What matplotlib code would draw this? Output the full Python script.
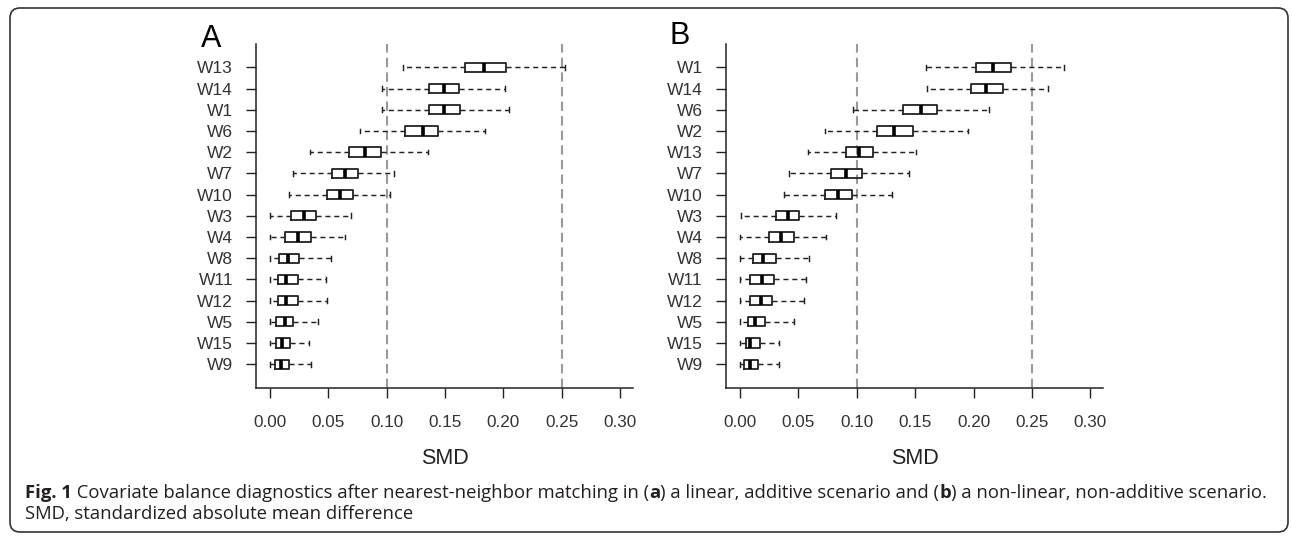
import matplotlib
matplotlib.use("Agg")
import matplotlib.pyplot as plt
from matplotlib.patches import FancyBboxPatch

# Covariate order (top to bottom) and box statistics:
# whisker low, lower quartile, median, upper quartile, whisker high.
LABELS_A = ["W13", "W14", "W1", "W6", "W2", "W7", "W10", "W3", "W4", "W8", "W11", "W12", "W5", "W15", "W9"]
WHISLO_A = [0.114, 0.096, 0.096, 0.077, 0.034, 0.020, 0.016, 0.000, 0.000, 0.000, 0.000, 0.000, 0.000, 0.000, 0.000]
Q1_A = [0.167, 0.136, 0.136, 0.116, 0.068, 0.053, 0.049, 0.018, 0.013, 0.008, 0.007, 0.007, 0.005, 0.005, 0.004]
MED_A = [0.183, 0.149, 0.149, 0.131, 0.081, 0.064, 0.060, 0.029, 0.024, 0.015, 0.014, 0.014, 0.013, 0.010, 0.009]
Q3_A = [0.202, 0.162, 0.163, 0.144, 0.095, 0.075, 0.071, 0.039, 0.035, 0.025, 0.024, 0.024, 0.020, 0.017, 0.016]
WHISHI_A = [0.253, 0.201, 0.205, 0.184, 0.135, 0.106, 0.103, 0.069, 0.064, 0.052, 0.048, 0.049, 0.041, 0.033, 0.035]

LABELS_B = ["W1", "W14", "W6", "W2", "W13", "W7", "W10", "W3", "W4", "W8", "W11", "W12", "W5", "W15", "W9"]
WHISLO_B = [0.159, 0.160, 0.097, 0.073, 0.058, 0.042, 0.038, 0.001, 0.000, 0.000, 0.000, 0.000, 0.000, 0.000, 0.000]
Q1_B = [0.202, 0.198, 0.140, 0.117, 0.091, 0.078, 0.073, 0.031, 0.025, 0.011, 0.009, 0.009, 0.007, 0.005, 0.004]
MED_B = [0.217, 0.211, 0.155, 0.132, 0.102, 0.091, 0.084, 0.041, 0.035, 0.020, 0.019, 0.018, 0.013, 0.009, 0.009]
Q3_B = [0.232, 0.225, 0.169, 0.148, 0.114, 0.105, 0.096, 0.051, 0.046, 0.031, 0.029, 0.028, 0.022, 0.017, 0.016]
WHISHI_B = [0.277, 0.264, 0.213, 0.195, 0.151, 0.145, 0.130, 0.082, 0.074, 0.059, 0.057, 0.055, 0.046, 0.034, 0.034]

THRESHOLDS = [0.10, 0.25]
X_TICKS = [0.00, 0.05, 0.10, 0.15, 0.20, 0.25, 0.30]
X_TICK_LABELS = ["0.00", "0.05", "0.10", "0.15", "0.20", "0.25", "0.30"]

CAPTION_1 = [("Fig. 1", "bold"), (" Covariate balance diagnostics after nearest-neighbor matching in (", "normal"),
             ("a", "bold"), (") a linear, additive scenario and (", "normal"), ("b", "bold"),
             (") a non-linear, non-additive scenario.", "normal")]
CAPTION_2 = "SMD, standardized absolute mean difference"

W, H = 1292, 536
TEXT_DARK = "#333333"
LINE_DARK = "#222222"

plt.rcParams.update({
    "font.family": ["Liberation Sans", "DejaVu Sans"],
    "axes.spines.top": False,
    "axes.spines.right": False,
    "axes.linewidth": 1.1,
    "xtick.major.width": 1.0,
    "ytick.major.width": 1.0,
    "xtick.major.size": 7.5,
    "ytick.major.size": 7.5,
    "xtick.color": LINE_DARK,
    "ytick.color": LINE_DARK,
    "xtick.labelcolor": TEXT_DARK,
    "ytick.labelcolor": TEXT_DARK,
})


def draw_panel(ax, labels, whislo, q1, med, q3, whishi):
    n = len(labels)
    positions = list(range(n, 0, -1))
    stats = [dict(whislo=a, q1=b, med=c, q3=d, whishi=e, fliers=[])
             for a, b, c, d, e in zip(whislo, q1, med, q3, whishi)]
    for thr in THRESHOLDS:
        ax.axvline(thr, color="#999999", linewidth=1.5, linestyle=(0, (4.5, 2.5)), zorder=1)
    ax.bxp(stats, positions=positions, widths=0.44, orientation="horizontal", showfliers=False,
           capwidths=0.22, manage_ticks=False,
           boxprops=dict(color=LINE_DARK, linewidth=1.3),
           medianprops=dict(color="black", linewidth=2.6, solid_capstyle="butt"),
           whiskerprops=dict(color=LINE_DARK, linewidth=1.05, linestyle=(0, (3.5, 2.6))),
           capprops=dict(color=LINE_DARK, linewidth=1.05))
    ax.set_xlim(-0.012, 0.311)
    ax.set_ylim(-0.12, n + 1.1)
    ax.set_yticks(positions)
    ax.set_yticklabels(labels, fontsize=12.5)
    ax.set_xticks(X_TICKS)
    ax.set_xticklabels(X_TICK_LABELS, fontsize=12.3)
    ax.tick_params(axis="y", pad=9)
    ax.tick_params(axis="x", pad=12)
    ax.set_xlabel("SMD", fontsize=15.5, color=LINE_DARK, labelpad=13)
    for spine in ("left", "bottom"):
        ax.spines[spine].set_color(LINE_DARK)


fig = plt.figure(figsize=(W / 100, H / 100), dpi=100)

# background layer in pixel coordinates: rounded frame and caption
bg = fig.add_axes([0, 0, 1, 1])
bg.set_xlim(0, W)
bg.set_ylim(H, 0)
bg.axis("off")
bg.add_patch(FancyBboxPatch((10, 8), 1278, 524, boxstyle="round,pad=0,rounding_size=10",
                            facecolor="none", edgecolor="#333333", linewidth=1.2))

ax_a = fig.add_axes([256 / W, 1 - 388 / H, 377 / W, 344 / H])
draw_panel(ax_a, LABELS_A, WHISLO_A, Q1_A, MED_A, Q3_A, WHISHI_A)
ax_b = fig.add_axes([725.7 / W, 1 - 388 / H, 377.6 / W, 344 / H])
draw_panel(ax_b, LABELS_B, WHISLO_B, Q1_B, MED_B, Q3_B, WHISHI_B)

fig.text(211 / W, 1 - 39 / H, "A", fontsize=22, ha="center", va="center")
fig.text(680 / W, 1 - 36.5 / H, "B", fontsize=22, ha="center", va="center")

# caption with mixed bold pieces, laid out one after another; size fitted to the line width
renderer = fig.canvas.get_renderer()
cap_font = ["Open Sans", "DejaVu Sans"]
probe = [bg.text(0, 0, t, fontsize=10, fontweight=wt, family=cap_font) for t, wt in CAPTION_1]
total = sum(p.get_window_extent(renderer).width for p in probe)
for p in probe:
    p.remove()
cap_size = 10 * 1237 / total

x = 25
for text, weight in CAPTION_1:
    t = bg.text(x, 493, text, fontsize=cap_size, fontweight=weight, family=cap_font,
                color="#231f20", va="center", ha="left")
    x += t.get_window_extent(renderer).width
bg.text(25, 514, CAPTION_2, fontsize=cap_size, family=cap_font, color="#231f20", va="center", ha="left")

fig.savefig("out.png", dpi=100)
